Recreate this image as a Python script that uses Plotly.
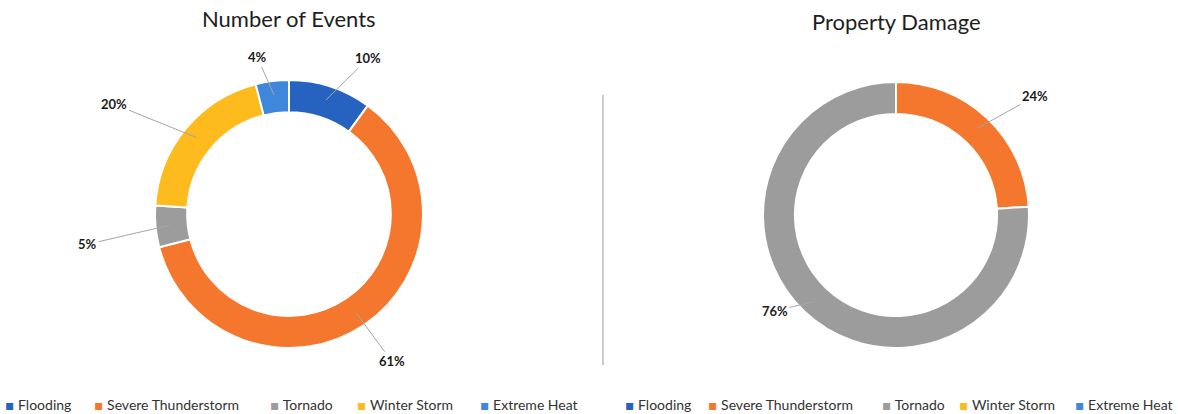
import math
import plotly.graph_objects as go

# ---- data ----
categories = ["Flooding", "Severe Thunderstorm", "Tornado", "Winter Storm", "Extreme Heat"]
events_pct = [10, 61, 5, 20, 4]
damage_pct = [0, 24, 76, 0, 0]
titles = ["Number of Events", "Property Damage"]

# ---- style ----
colors = ["#2662BF", "#F4772D", "#9C9C9C", "#FDBB1D", "#3E87DA"]
W, H = 1178, 414
ML, MR, MT, MB = 0, 0, 40, 40
PW, PH = W - ML - MR, H - MT - MB
FONT = "Lato"


def px_x(x):
    return (x - ML) / PW


def px_y(y):
    return 1 - (y - MT) / PH


# pie geometry in pixels (centre, radius), label nudges, legend item x-positions
pies = [
    dict(cx=289, cy=214, r=134, values=events_pct, title_y=18,
         nudges=[(10, 8), (-10, 5), (-14, 14), (-26, 0), (6, 14)],
         legend_x=[3, 92, 268, 355, 478]),
    dict(cx=896, cy=215, r=133, values=damage_pct, title_y=22,
         nudges=[(0, 0), (6, 6), (12, -29), (0, 0), (0, 0)],
         legend_x=[623, 706, 880, 957, 1073]),
]
LEGEND_Y = 404

fig = go.Figure()
annotations = []
for i, p in enumerate(pies):
    cx, cy, r = p["cx"], p["cy"], p["r"]
    fig.add_trace(go.Pie(
        labels=categories,
        values=p["values"],
        hole=0.76,
        sort=False,
        direction="clockwise",
        rotation=0,
        marker=dict(colors=colors, line=dict(color="white", width=2)),
        textinfo="none",
        hoverinfo="label+percent",
        domain=dict(x=[px_x(cx - r), px_x(cx + r)], y=[px_y(cy + r), px_y(cy - r)]),
        showlegend=False,
    ))
    # outside labels with leader lines, positioned from the slice angles
    total = sum(p["values"])
    cum = 0
    for v, (ndx, ndy) in zip(p["values"], p["nudges"]):
        if v <= 0:
            continue
        mid = (cum + v / 2) / total * 2 * math.pi
        cum += v
        sx, sy = math.sin(mid), -math.cos(mid)
        r_pt = r - 14
        r_lab = r + 38
        px0, py0 = cx + sx * r_pt, cy + sy * r_pt
        lx = cx + sx * r_lab + (16 if sx >= 0 else -16) + ndx
        ly = cy + sy * r_lab + ndy
        annotations.append(dict(
            x=px_x(px0), y=px_y(py0), xref="paper", yref="paper",
            ax=lx - px0, ay=ly - py0,
            text="<b>%d%%</b>" % round(v / total * 100),
            showarrow=True, arrowhead=0, arrowwidth=1, arrowcolor="#A6A6A6",
            font=dict(family=FONT, size=13, color="#1a1a1a"),
            standoff=0, startstandoff=0,
        ))
    # chart title
    annotations.append(dict(
        x=px_x(cx), y=px_y(p["title_y"]), xref="paper", yref="paper",
        text=titles[i], showarrow=False, xanchor="center", yanchor="middle",
        font=dict(family=FONT, size=22, color="#1e1e1e"),
    ))
    # legend row (built from the categories and colours)
    for name, col, lxp in zip(categories, colors, p["legend_x"]):
        annotations.append(dict(
            x=px_x(lxp), y=px_y(LEGEND_Y), xref="paper", yref="paper",
            xanchor="left", yanchor="middle", showarrow=False,
            text="<span style='color:%s;font-family:DejaVu Sans'>▪</span>&nbsp;%s" % (col, name),
            font=dict(family=FONT, size=14, color="#333333"),
        ))

fig.update_layout(
    width=W, height=H,
    margin=dict(l=ML, r=MR, t=MT, b=MB),
    paper_bgcolor="white", plot_bgcolor="white",
    font=dict(family=FONT, color="#333333"),
    showlegend=False,
    annotations=annotations,
    shapes=[dict(type="line", xref="paper", yref="paper",
                 x0=px_x(603), x1=px_x(603), y0=px_y(365), y1=px_y(95),
                 line=dict(color="#9A9A9A", width=1))],
)

fig.write_html("out.html", config={"displayModeBar": False},
               post_script="document.body.style.margin='0px';")
